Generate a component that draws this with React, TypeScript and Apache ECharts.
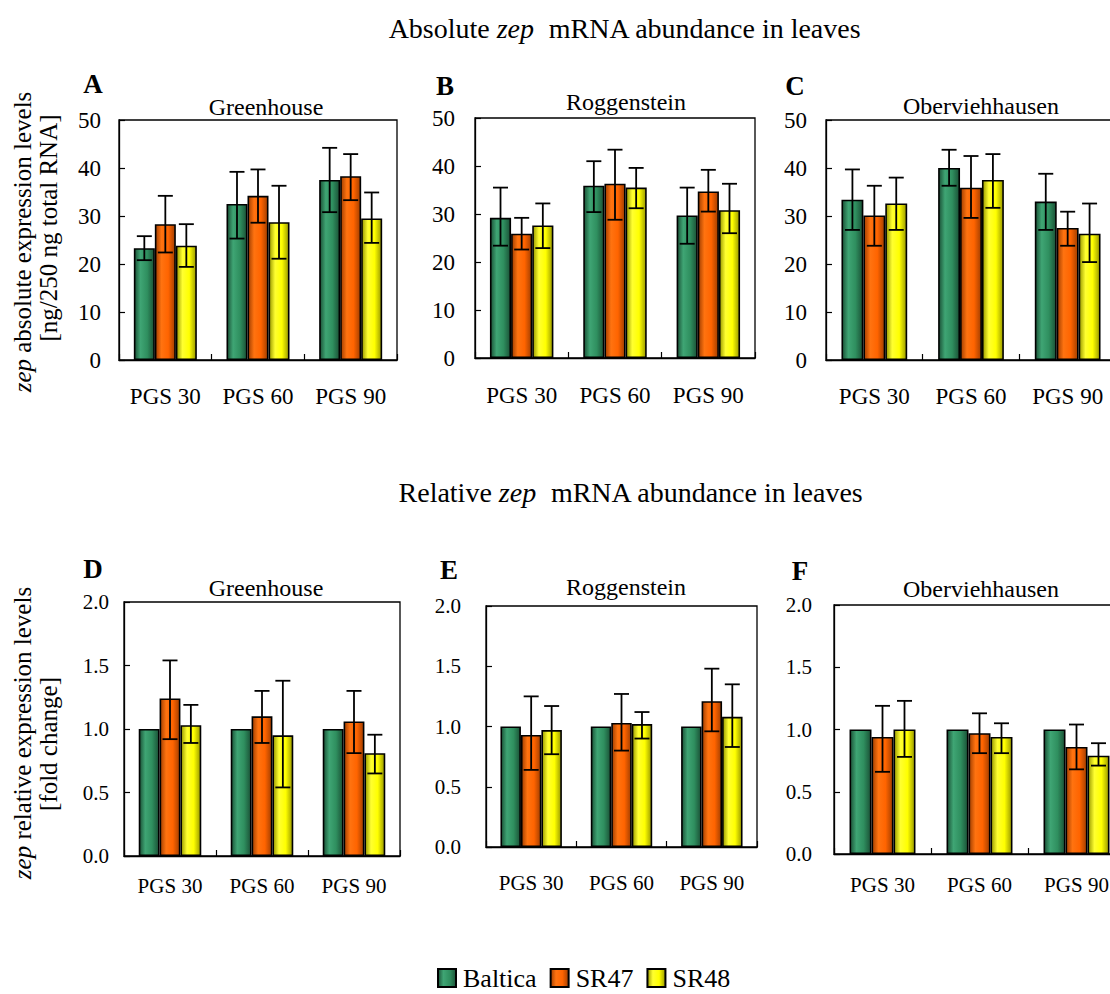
import React, { useEffect, useRef } from "react";
import * as echarts from "echarts";

// ---- data -------------------------------------------------------------
const categories = ["PGS 30", "PGS 60", "PGS 90"];
const genotypes = ["Baltica", "SR47", "SR48"];
const absTicks = [0, 10, 20, 30, 40, 50];
const relTicks = [0, 0.5, 1.0, 1.5, 2.0];

// Absolute expression [ng/250 ng total RNA]; rows: Baltica, SR47, SR48
const absGreenhouse = [[23.3, 32.5, 37.5], [28.3, 34.2, 38.3], [23.8, 28.7, 29.5]];
const absGreenhouseLow = [[20.8, 25.3, 30.8], [22.4, 28.6, 33.3], [19.4, 21.1, 24.4]];
const absGreenhouseHigh = [[25.8, 39.2, 44.2], [34.2, 39.7, 42.9], [28.3, 36.3, 34.9]];

const absRoggenstein = [[29.2, 35.9, 29.7], [25.9, 36.3, 34.7], [27.6, 35.5, 30.8]];
const absRoggensteinLow = [[23.4, 30.4, 23.8], [22.6, 28.8, 30.5], [22.9, 31.2, 26.0]];
const absRoggensteinHigh = [[35.5, 41.0, 35.5], [29.2, 43.4, 39.2], [32.2, 39.6, 36.3]];

const absOberviehhausen = [[33.4, 40.0, 33.0], [30.1, 35.9, 27.5], [32.6, 37.5, 26.3]];
const absOberviehhausenLow = [[27.1, 36.3, 27.1], [23.8, 29.6, 23.8], [27.1, 31.7, 20.4]];
const absOberviehhausenHigh = [[39.7, 43.8, 38.8], [36.3, 42.5, 30.9], [38.0, 42.9, 32.6]];

// Relative expression [fold change]; Baltica is the reference (no error bar)
const relGreenhouse = [[1.0, 1.0, 1.0], [1.24, 1.1, 1.06], [1.03, 0.95, 0.81]];
const relGreenhouseLow = [null, [0.92, 0.89, 0.81], [0.89, 0.54, 0.65]];
const relGreenhouseHigh = [null, [1.54, 1.3, 1.3], [1.19, 1.38, 0.955]];

const relRoggenstein = [[1.0, 1.0, 1.0], [0.93, 1.03, 1.21], [0.97, 1.02, 1.08]];
const relRoggensteinLow = [null, [0.64, 0.8, 0.96], [0.77, 0.9, 0.83]];
const relRoggensteinHigh = [null, [1.25, 1.27, 1.48], [1.17, 1.12, 1.35]];

const relOberviehhausen = [[1.0, 1.0, 1.0], [0.94, 0.97, 0.86], [1.0, 0.94, 0.79]];
const relOberviehhausenLow = [null, [0.66, 0.81, 0.68], [0.78, 0.81, 0.71]];
const relOberviehhausenHigh = [null, [1.19, 1.13, 1.04], [1.23, 1.05, 0.89]];

// ---- styling ------------------------------------------------------------
const FONT = "Liberation Serif";
const GAP = 0.32; // barCategoryGap as fraction

const barColors = [
  { edge: "#1b5237", light: "#3fa574", mid: "#2f8f5f" },
  { edge: "#a33f00", light: "#ff7310", mid: "#ff6400" },
  { edge: "#9a9a00", light: "#ffff30", mid: "#ffff00" },
];

function barFill(i: number) {
  const c = barColors[i];
  return new echarts.graphic.LinearGradient(0, 0, 1, 0, [
    { offset: 0, color: c.edge },
    { offset: 0.3, color: c.light },
    { offset: 0.65, color: c.mid },
    { offset: 1, color: c.edge },
  ]);
}

type Panel = {
  letter: string;
  site: string;
  grid: { left: number; top: number; width: number; height: number };
  ticks: number[];
  decimals: number;
  fontSize: number;
  yMargin: number;
  xMargin: number;
  means: number[][];
  lows: (number[] | null)[];
  highs: (number[] | null)[];
  letterPos: [number, number];
  sitePos: [number, number];
};

const panels: Panel[] = [
  {
    letter: "A", site: "Greenhouse",
    grid: { left: 119, top: 120, width: 278, height: 240 },
    ticks: absTicks, decimals: 0, fontSize: 23, yMargin: 18, xMargin: 25,
    means: absGreenhouse, lows: absGreenhouseLow, highs: absGreenhouseHigh,
    letterPos: [93, 84], sitePos: [266, 107],
  },
  {
    letter: "B", site: "Roggenstein",
    grid: { left: 475, top: 118, width: 280, height: 240 },
    ticks: absTicks, decimals: 0, fontSize: 23, yMargin: 20, xMargin: 26,
    means: absRoggenstein, lows: absRoggensteinLow, highs: absRoggensteinHigh,
    letterPos: [445, 86], sitePos: [626, 102],
  },
  {
    letter: "C", site: "Oberviehhausen",
    grid: { left: 826, top: 120, width: 290, height: 240 },
    ticks: absTicks, decimals: 0, fontSize: 23, yMargin: 19, xMargin: 25,
    means: absOberviehhausen, lows: absOberviehhausenLow, highs: absOberviehhausenHigh,
    letterPos: [795, 86], sitePos: [981, 106],
  },
  {
    letter: "D", site: "Greenhouse",
    grid: { left: 124, top: 602, width: 276, height: 254 },
    ticks: relTicks, decimals: 1, fontSize: 21, yMargin: 15, xMargin: 19,
    means: relGreenhouse, lows: relGreenhouseLow, highs: relGreenhouseHigh,
    letterPos: [93, 569], sitePos: [266, 588],
  },
  {
    letter: "E", site: "Roggenstein",
    grid: { left: 486, top: 606, width: 271, height: 241 },
    ticks: relTicks, decimals: 1, fontSize: 21, yMargin: 25, xMargin: 25,
    means: relRoggenstein, lows: relRoggensteinLow, highs: relRoggensteinHigh,
    letterPos: [449, 570], sitePos: [626, 587],
  },
  {
    letter: "F", site: "Oberviehhausen",
    grid: { left: 834, top: 605, width: 291, height: 249 },
    ticks: relTicks, decimals: 1, fontSize: 21, yMargin: 22, xMargin: 20,
    means: relOberviehhausen, lows: relOberviehhausenLow, highs: relOberviehhausenHigh,
    letterPos: [800, 571], sitePos: [981, 589],
  },
];

function buildOption() {
  const grid: any[] = [];
  const xAxis: any[] = [];
  const yAxis: any[] = [];
  const series: any[] = [];
  const graphic: any[] = [];

  panels.forEach((p, pi) => {
    grid.push({
      ...p.grid,
      show: true,
      borderColor: "#000",
      borderWidth: 1.3,
      backgroundColor: "transparent",
    });
    xAxis.push({
      type: "category",
      gridIndex: pi,
      data: categories,
      axisLine: { show: true, lineStyle: { color: "#000", width: 1.3 } },
      axisTick: { show: true, inside: true, length: 6, lineStyle: { color: "#000", width: 1.2 } },
      axisLabel: { color: "#000", fontFamily: FONT, fontSize: p.fontSize, margin: p.xMargin },
      splitLine: { show: false },
    });
    const step = p.ticks[1] - p.ticks[0];
    yAxis.push({
      type: "value",
      gridIndex: pi,
      min: p.ticks[0],
      max: p.ticks[p.ticks.length - 1],
      interval: step,
      axisLine: { show: true, lineStyle: { color: "#000", width: 1.3 } },
      axisTick: { show: true, inside: true, length: 6, lineStyle: { color: "#000", width: 1.2 } },
      axisLabel: {
        color: "#000",
        fontFamily: FONT,
        fontSize: p.fontSize,
        margin: p.yMargin,
        formatter: (v: number) => v.toFixed(p.decimals),
      },
      splitLine: { show: false },
    });

    genotypes.forEach((g, gi) => {
      series.push({
        name: g,
        type: "bar",
        xAxisIndex: pi,
        yAxisIndex: pi,
        data: p.means[gi],
        barGap: "0%",
        barCategoryGap: `${GAP * 100}%`,
        itemStyle: { color: barFill(gi), borderColor: "#000", borderWidth: 1.6 },
        z: 2,
      });
    });

    genotypes.forEach((g, gi) => {
      const lo = p.lows[gi];
      const hi = p.highs[gi];
      if (!lo || !hi) return;
      series.push({
        type: "custom",
        xAxisIndex: pi,
        yAxisIndex: pi,
        z: 5,
        silent: true,
        encode: { x: 0, y: [1, 2] },
        data: categories.map((_, k) => [k, lo[k], hi[k]]),
        renderItem: (_params: any, api: any) => {
          const band = api.size([1, 0])[0];
          const bw = (band * (1 - GAP)) / 3;
          const off = (gi - 1) * bw;
          const pLo = api.coord([api.value(0), api.value(1)]);
          const pHi = api.coord([api.value(0), api.value(2)]);
          const x = pLo[0] + off;
          const half = 7.5;
          const style = { stroke: "#000", lineWidth: 1.8, fill: null };
          return {
            type: "group",
            children: [
              { type: "line", shape: { x1: x, y1: pHi[1], x2: x, y2: pLo[1] }, style },
              { type: "line", shape: { x1: x - half, y1: pHi[1], x2: x + half, y2: pHi[1] }, style },
              { type: "line", shape: { x1: x - half, y1: pLo[1], x2: x + half, y2: pLo[1] }, style },
            ],
          };
        },
      });
    });

    graphic.push({
      type: "text",
      x: p.letterPos[0],
      y: p.letterPos[1],
      style: {
        text: p.letter,
        fontFamily: FONT,
        fontWeight: "bold",
        fontSize: 27,
        fill: "#000",
        align: "center",
        verticalAlign: "middle",
      },
    });
    graphic.push({
      type: "text",
      x: p.sitePos[0],
      y: p.sitePos[1],
      style: {
        text: p.site,
        fontFamily: FONT,
        fontSize: 24,
        fill: "#000",
        align: "center",
        verticalAlign: "middle",
      },
    });
  });

  const rich = { i: { fontStyle: "italic", fontFamily: FONT, fontSize: 28, fill: "#000" } };
  const richY = { i: { fontStyle: "italic", fontFamily: FONT, fontSize: 25, fill: "#000" } };
  const headline = (text: string, x: number, y: number) => ({
    type: "text",
    x,
    y,
    style: { text, rich, fontFamily: FONT, fontSize: 28, fill: "#000", align: "center", verticalAlign: "middle" },
  });
  const sideLabel = (text: string, x: number, y: number) => ({
    type: "text",
    x,
    y,
    rotation: Math.PI / 2,
    style: { text, rich: richY, fontFamily: FONT, fontSize: 25, fill: "#000", align: "center", verticalAlign: "middle" },
  });

  graphic.push(headline("Absolute {i|zep}  mRNA abundance in leaves", 625, 28));
  graphic.push(headline("Relative {i|zep}  mRNA abundance in leaves", 631, 492));
  graphic.push(sideLabel("{i|zep} absolute expression levels", 22, 242));
  graphic.push(sideLabel("[ng/250 ng total RNA]", 48, 228));
  graphic.push(sideLabel("{i|zep} relative expression levels", 22, 733));
  graphic.push(sideLabel("[fold change]", 48, 744));

  return {
    animation: false,
    backgroundColor: "#fff",
    grid,
    xAxis,
    yAxis,
    series,
    graphic,
    legend: {
      data: genotypes,
      left: 437,
      top: 965,
      padding: 0,
      icon: "rect",
      itemWidth: 18,
      itemHeight: 18,
      itemGap: 13,
      textStyle: { fontFamily: FONT, fontSize: 26, lineHeight: 26, color: "#000", padding: [0, 0, 0, 2] },
    },
  };
}

export default function App() {
  const ref = useRef<HTMLDivElement>(null);
  useEffect(() => {
    if (!ref.current) return;
    const chart = echarts.init(ref.current, undefined, { renderer: "svg" });
    chart.setOption(buildOption() as any);
    return () => chart.dispose();
  }, []);
  return (
    <div
      style={{
        position: "absolute",
        left: 0,
        top: 0,
        width: 1110,
        height: 994,
        overflow: "hidden",
        background: "#fff",
      }}
    >
      <div ref={ref} style={{ width: 1140, height: 994 }} />
    </div>
  );
}
